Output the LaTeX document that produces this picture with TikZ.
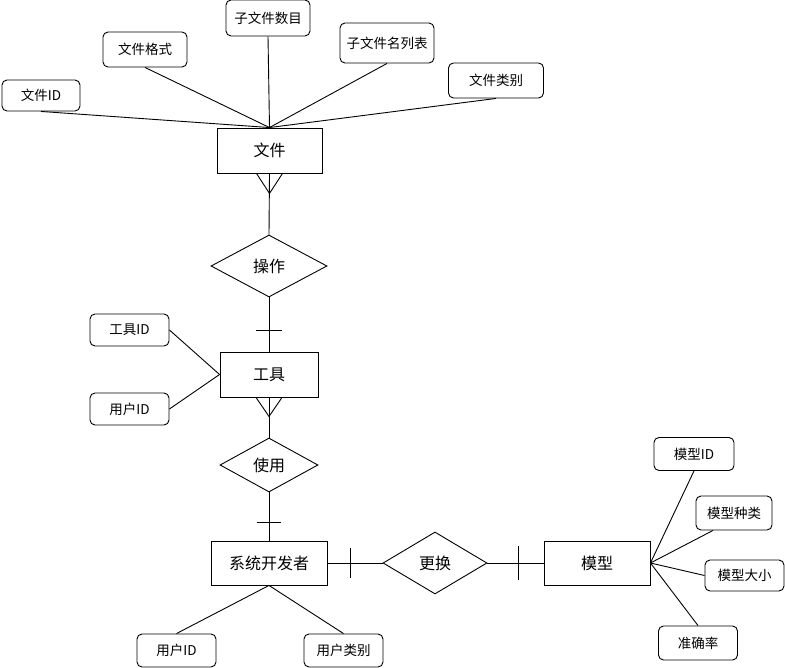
\documentclass[tikz,border=0pt]{standalone}
\usepackage{fontspec}
\usepackage{tikz}
\usetikzlibrary{shapes.geometric, positioning}
\newfontfamily\cjk{Noto Sans CJK SC}
\tikzstyle{ent}=[draw,fill=white,minimum height=45pt,font=\cjk\fontsize{16}{18}\selectfont]
\tikzstyle{attr}=[draw,fill=white,rounded corners=5pt,minimum width=79pt,minimum height=33pt,font=\cjk\fontsize{13.5}{15}\selectfont]
\tikzstyle{rel}=[draw,diamond,fill=white,inner sep=0pt,font=\cjk\fontsize{16}{18}\selectfont]
\tikzstyle{lnk}=[line width=0.9pt]

\begin{document}
\begin{tikzpicture}[x=1pt,y=-1pt,line width=0.9pt]
  \useasboundingbox (0,0) rectangle (785,668);
  % entities and relations
  \node[ent,minimum width=105pt] (file) at (269.5,150.5) {文件};
  \node[rel,minimum width=116pt,minimum height=62pt] (op) at (269,266) {操作};
  \node[ent,minimum width=98pt] (tool) at (269,374.5) {工具};
  \node[rel,minimum width=98pt,minimum height=54pt] (use) at (269,465) {使用};
  \node[ent,minimum width=116pt,minimum height=44pt] (dev) at (269,563) {系统开发者};
  \node[rel,minimum width=104pt,minimum height=62pt] (swap) at (435,563) {更换};
  \node[ent,minimum width=106pt,minimum height=44pt] (model) at (597,563) {模型};
  % attributes of file
  \node[attr,minimum width=78pt,minimum height=31pt] (fid) at (41,95.5) {文件ID};
  \node[attr,minimum width=84pt,minimum height=35pt] (ffmt) at (145,49.5) {文件格式};
  \node[attr,minimum width=84pt,minimum height=36pt] (fnum) at (268,18) {子文件数目};
  \node[attr,minimum width=94pt,minimum height=40pt] (flist) at (387,43) {子文件名列表};
  \node[attr,minimum width=95pt,minimum height=35pt] (ftype) at (496,80.5) {文件类别};
  % attributes of tool
  \node[attr,minimum height=32pt] (tid) at (129.5,330) {工具ID};
  \node[attr,minimum height=32pt] (tuid) at (129.5,409) {用户ID};
  % attributes of developer
  \node[attr] (duid) at (176.5,650.5) {用户ID};
  \node[attr] (dtype) at (343.5,650.5) {用户类别};
  % attributes of model
  \node[attr,minimum width=80pt] (mid) at (694,454) {模型ID};
  \node[attr,minimum width=76pt,minimum height=34pt] (mkind) at (734,513) {模型种类};
  \node[attr,minimum height=31pt] (msize) at (744.5,575.5) {模型大小};
  \node[attr,minimum height=34pt] (macc) at (698,643) {准确率};

  % attribute links
  \foreach \a in {fid,ffmt,fnum,flist,ftype}
    \draw[lnk] (\a.south) -- (file.north);
  \draw[lnk] (tid.east) -- (tool.west);
  \draw[lnk] (tuid.east) -- (tool.west);
  \draw[lnk] (dev.south) -- (duid.north);
  \draw[lnk] (dev.south) -- (dtype.north);
  \draw[lnk] (model.east) -- (mid.south);
  \draw[lnk] (model.east) -- ([xshift=-21pt]mkind.south);
  \draw[lnk] (model.east) -- (msize.west);
  \draw[lnk] (model.east) -- (macc.north);

  % relation links
  \draw[lnk] (file.south) -- (op.north);
  \draw[lnk] ([xshift=-13pt]file.south) -- ([yshift=-20pt]file.south) -- ([xshift=13pt]file.south);
  \draw[lnk] (op.south) -- (tool.north);
  \draw[lnk] ([xshift=-13pt,yshift=21pt]tool.north) -- ([xshift=13pt,yshift=21pt]tool.north);
  \draw[lnk] (tool.south) -- (use.north);
  \draw[lnk] ([xshift=-13pt]tool.south) -- ([yshift=-19pt]tool.south) -- ([xshift=13pt]tool.south);
  \draw[lnk] (use.south) -- (dev.north);
  \draw[lnk] ([xshift=-12pt,yshift=18pt]dev.north) -- ([xshift=12pt,yshift=18pt]dev.north);
  \draw[lnk] (dev.east) -- (swap.west);
  \draw[lnk] ([xshift=23pt,yshift=15pt]dev.east) -- ([xshift=23pt,yshift=-15pt]dev.east);
  \draw[lnk] (swap.east) -- (model.west);
  \draw[lnk] ([xshift=-25pt,yshift=17pt]model.west) -- ([xshift=-25pt,yshift=-17pt]model.west);
\end{tikzpicture}
\end{document}
